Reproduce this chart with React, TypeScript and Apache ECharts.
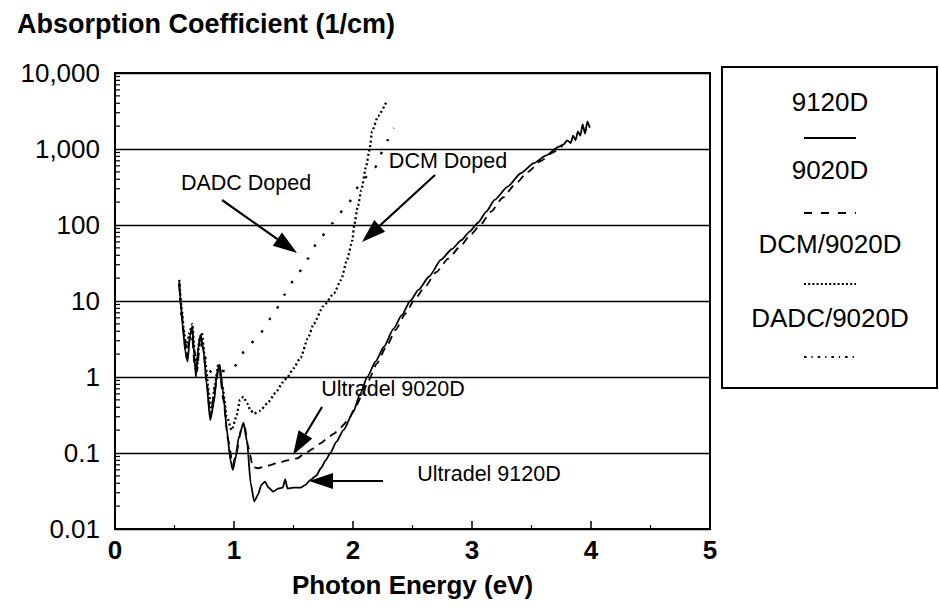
import React, { useEffect, useRef } from "react";
import * as echarts from "echarts";

const FONT = '"Liberation Sans", Arial, Helvetica, sans-serif';

// ---- axes ----
const xTickValues = [0, 1, 2, 3, 4, 5];
const yTickValues = [0.01, 0.1, 1, 10, 100, 1000, 10000];
const yTickLabels = ["0.01", "0.1", "1", "10", "100", "1,000", "10,000"];

// ---- series: Ultradel 9120D (solid) ----
const x9120 = [0.54, 0.55, 0.57, 0.59, 0.61, 0.63, 0.65, 0.665, 0.68, 0.70, 0.72, 0.745, 0.77, 0.80, 0.83, 0.86, 0.88, 0.91, 0.94, 0.97, 0.99, 1.01, 1.04, 1.08, 1.11, 1.14, 1.17, 1.20, 1.23, 1.26, 1.29, 1.33, 1.37, 1.41, 1.43, 1.45, 1.50, 1.56, 1.60, 1.64, 1.69, 1.73, 1.77, 1.81, 1.86, 1.92, 2.00, 2.06, 2.12, 2.19, 2.26, 2.34, 2.41, 2.48, 2.55, 2.64, 2.74, 2.83, 2.91, 2.98, 3.05, 3.12, 3.19, 3.30, 3.41, 3.52, 3.62, 3.73, 3.77, 3.80, 3.83, 3.85, 3.87, 3.89, 3.91, 3.93, 3.95, 3.97, 3.99];
const y9120 = [18, 10, 4.5, 2.2, 1.6, 3.5, 4.6, 2.0, 1.0, 2.5, 3.6, 2.2, 0.8, 0.27, 0.45, 1.2, 1.45, 0.6, 0.2, 0.08, 0.06, 0.08, 0.16, 0.25, 0.14, 0.04, 0.023, 0.028, 0.038, 0.042, 0.035, 0.031, 0.034, 0.035, 0.045, 0.034, 0.035, 0.035, 0.038, 0.044, 0.05, 0.063, 0.08, 0.1, 0.14, 0.2, 0.34, 0.6, 1.0, 1.6, 2.5, 4.3, 6.5, 10, 14, 21, 35, 48, 63, 82, 107, 150, 214, 320, 480, 650, 820, 1070, 1150, 1300, 1200, 1500, 1300, 1700, 1500, 2100, 1600, 2300, 1900];

// ---- series: Ultradel 9020D (dashed) ----
const x9020 = [0.54, 0.56, 0.58, 0.60, 0.62, 0.645, 0.67, 0.69, 0.715, 0.74, 0.77, 0.80, 0.84, 0.875, 0.91, 0.95, 0.99, 1.02, 1.06, 1.09, 1.12, 1.16, 1.20, 1.28, 1.37, 1.45, 1.53, 1.60, 1.67, 1.73, 1.79, 1.84, 1.90, 1.96, 2.02, 2.07, 2.13, 2.20, 2.28, 2.36, 2.44, 2.51, 2.60, 2.70, 2.80, 2.90, 2.99, 3.07, 3.16, 3.26, 3.36, 3.47, 3.58, 3.68, 3.76];
const y9020 = [16, 7, 3.5, 1.8, 2.8, 4.2, 1.3, 1.2, 3.2, 2.4, 0.9, 0.3, 0.7, 1.4, 0.5, 0.15, 0.07, 0.1, 0.2, 0.22, 0.12, 0.065, 0.063, 0.068, 0.074, 0.08, 0.085, 0.1, 0.115, 0.135, 0.16, 0.18, 0.22, 0.27, 0.4, 0.55, 0.9, 1.5, 2.5, 4.2, 6.8, 10, 15, 24, 36, 52, 75, 100, 150, 230, 340, 500, 700, 900, 1100];

// ---- series: DCM/9020D (dense dots) ----
const xDcm = [0.54, 0.56, 0.58, 0.60, 0.625, 0.65, 0.67, 0.69, 0.71, 0.73, 0.76, 0.79, 0.81, 0.84, 0.87, 0.90, 0.94, 0.98, 1.02, 1.05, 1.08, 1.11, 1.14, 1.17, 1.22, 1.28, 1.35, 1.41, 1.45, 1.50, 1.56, 1.62, 1.67, 1.75, 1.84, 1.90, 1.95, 1.995, 2.01, 2.04, 2.07, 2.11, 2.14, 2.16, 2.21, 2.28];
const yDcm = [19, 8, 4, 2.4, 3.8, 5, 2.0, 1.4, 3.2, 3.8, 1.5, 0.6, 0.35, 0.8, 1.5, 0.8, 0.3, 0.2, 0.3, 0.5, 0.55, 0.45, 0.36, 0.33, 0.36, 0.45, 0.62, 0.85, 1.0, 1.3, 1.8, 3.2, 5.0, 8.5, 12.6, 19, 35, 63, 100, 174, 288, 590, 1000, 1700, 2700, 4170];

// ---- series: DADC/9020D (sparse dots) ----
const xDadc = [0.54, 0.56, 0.585, 0.61, 0.64, 0.665, 0.69, 0.72, 0.75, 0.78, 0.82, 0.87, 0.93, 0.99, 1.10, 1.22, 1.33, 1.42, 1.52, 1.62, 1.71, 1.83, 1.96, 2.08, 2.18, 2.29, 2.34];
const yDadc = [17, 6, 3, 2.5, 4, 2.2, 1.5, 3.3, 2.0, 1.3, 1.1, 1.2, 1.2, 1.3, 2.3, 3.8, 6.5, 12, 20.6, 36, 63, 106, 195, 390, 560, 1300, 1900];

// ---- legend entries ----
const legendLabels = ["9120D", "9020D", "DCM/9020D", "DADC/9020D"];

// ---- annotations ----
const annoLabels = ["DADC Doped", "DCM Doped", "Ultradel 9020D", "Ultradel 9120D"];

const pairs = (xs: number[], ys: number[]) => xs.map((x, i) => [x, ys[i]]);

function arrow(x1: number, y1: number, x2: number, y2: number) {
  const dx = x2 - x1;
  const dy = y2 - y1;
  const len = Math.sqrt(dx * dx + dy * dy);
  const ux = dx / len;
  const uy = dy / len;
  const hl = 24;
  const hw = 8;
  const bx = x2 - ux * hl;
  const by = y2 - uy * hl;
  return [
    {
      type: "line",
      shape: { x1, y1, x2: bx, y2: by },
      style: { stroke: "#000", lineWidth: 2.2 },
      silent: true,
    },
    {
      type: "polygon",
      shape: {
        points: [
          [x2, y2],
          [bx - uy * hw, by + ux * hw],
          [bx + uy * hw, by - ux * hw],
        ],
      },
      style: { fill: "#000" },
      silent: true,
    },
  ];
}

export default function App() {
  const ref = useRef<HTMLDivElement>(null);

  useEffect(() => {
    if (!ref.current) return;
    const chart = echarts.init(ref.current, undefined, { renderer: "svg" });

    const yMinor: number[][] = [];
    for (let e = -2; e < 4; e++) {
      for (let m = 2; m <= 9; m++) yMinor.push([0, m * Math.pow(10, e)]);
    }

    const legendX = 830;
    const labelYs = [102, 170, 244, 318];
    const sampleYs = [138, 213, 284, 357];
    const sampleDash: (number[] | null)[] = [null, [8, 9], [2, 2.2], [2.5, 5, 1.2, 5]];

    const legendGraphics: any[] = [
      {
        type: "rect",
        shape: { x: 722, y: 67, width: 215, height: 321 },
        style: { fill: "#fff", stroke: "#000", lineWidth: 2 },
        silent: true,
      },
    ];
    legendLabels.forEach((t, i) => {
      legendGraphics.push({
        type: "text",
        x: legendX,
        y: labelYs[i],
        style: {
          text: t,
          fill: "#000",
          font: `26px ${FONT}`,
          align: "center",
          verticalAlign: "middle",
        },
        silent: true,
      });
      legendGraphics.push({
        type: "line",
        shape: { x1: legendX - 26, y1: sampleYs[i], x2: legendX + 26, y2: sampleYs[i] },
        style: {
          stroke: "#000",
          lineWidth: 2,
          lineDash: sampleDash[i] || undefined,
        },
        silent: true,
      });
    });

    const annoPos = [
      [246, 183],
      [448, 161],
      [393, 389],
      [489, 474],
    ];
    const annoGraphics: any[] = annoLabels.map((t, i) => ({
      type: "text",
      x: annoPos[i][0],
      y: annoPos[i][1],
      style: {
        text: t,
        fill: "#000",
        font: `21.5px ${FONT}`,
        align: "center",
        verticalAlign: "middle",
      },
      silent: true,
    }));
    const arrows = [
      ...arrow(222, 200, 297, 253),
      ...arrow(435, 175, 362, 242),
      ...arrow(322, 407, 293, 455),
      ...arrow(383, 481, 309, 481),
    ];

    const lineSeries = (name: string, data: number[][], type: any, width: number, cap = "butt") => ({
      name,
      type: "line",
      data,
      showSymbol: false,
      smooth: 0.2,
      smoothMonotone: "x",
      lineStyle: { color: "#000", width, type, cap },
      silent: true,
      z: 3,
    });

    chart.setOption({
      animation: false,
      backgroundColor: "#fff",
      textStyle: { fontFamily: FONT },
      title: {
        text: "Absorption Coefficient (1/cm)",
        left: 17,
        top: 10,
        padding: 0,
        textStyle: { fontFamily: FONT, fontSize: 27, fontWeight: "bold", color: "#000" },
      },
      grid: {
        left: 115,
        right: 229,
        top: 73,
        bottom: 83,
        show: true,
        borderColor: "#000",
        borderWidth: 2,
        backgroundColor: "transparent",
      },
      xAxis: {
        type: "value",
        min: xTickValues[0],
        max: xTickValues[xTickValues.length - 1],
        interval: 1,
        name: "Photon Energy (eV)",
        nameLocation: "middle",
        nameGap: 43,
        nameTextStyle: { fontFamily: FONT, fontSize: 26, fontWeight: "bold", color: "#000" },
        axisLine: { show: true, onZero: false, lineStyle: { color: "#000", width: 2 } },
        axisTick: { show: true, inside: true, length: 8, lineStyle: { color: "#000", width: 1.5 } },
        minorTick: { show: true, splitNumber: 2, length: 4, lineStyle: { color: "#000", width: 1.2 } },
        axisLabel: { fontFamily: FONT, fontSize: 26, color: "#000", margin: 8, fontWeight: "bold" },
        splitLine: { show: false },
      },
      yAxis: {
        type: "log",
        logBase: 10,
        min: yTickValues[0],
        max: yTickValues[yTickValues.length - 1],
        splitNumber: 6,
        axisLine: { show: true, lineStyle: { color: "#000", width: 2 } },
        axisTick: { show: false },
        axisLabel: {
          fontFamily: FONT,
          fontSize: 26,
          color: "#000",
          margin: 15,
          formatter: (v: number) => {
            let best = 0;
            let bd = Infinity;
            yTickValues.forEach((t, i) => {
              const d = Math.abs(Math.log10(t) - Math.log10(v));
              if (d < bd) {
                bd = d;
                best = i;
              }
            });
            return yTickLabels[best];
          },
        },
        splitLine: { show: true, lineStyle: { color: "#000", width: 1.4 } },
      },
      series: [
        lineSeries("9120D", pairs(x9120, y9120), "solid", 1.8),
        lineSeries("9020D", pairs(x9020, y9020), [8, 6], 1.8),
        lineSeries("DCM/9020D", pairs(xDcm, yDcm), [2, 2.6], 2.3),
        lineSeries("DADC/9020D", pairs(xDadc, yDadc), [2.5, 12], 2.3),
        {
          type: "custom",
          data: yMinor,
          silent: true,
          clip: false,
          z: 4,
          renderItem: (_p: any, api: any) => {
            const pt = api.coord([api.value(0), api.value(1)]);
            return {
              type: "line",
              shape: { x1: pt[0], y1: pt[1], x2: pt[0] + 5, y2: pt[1] },
              style: { stroke: "#000", lineWidth: 1.2 },
            };
          },
        },
      ],
      graphic: [...legendGraphics, ...annoGraphics, ...arrows],
    });

    return () => chart.dispose();
  }, []);

  return (
    <div
      ref={ref}
      style={{ position: "fixed", left: 0, top: 0, width: 939, height: 612, background: "#fff" }}
    />
  );
}
